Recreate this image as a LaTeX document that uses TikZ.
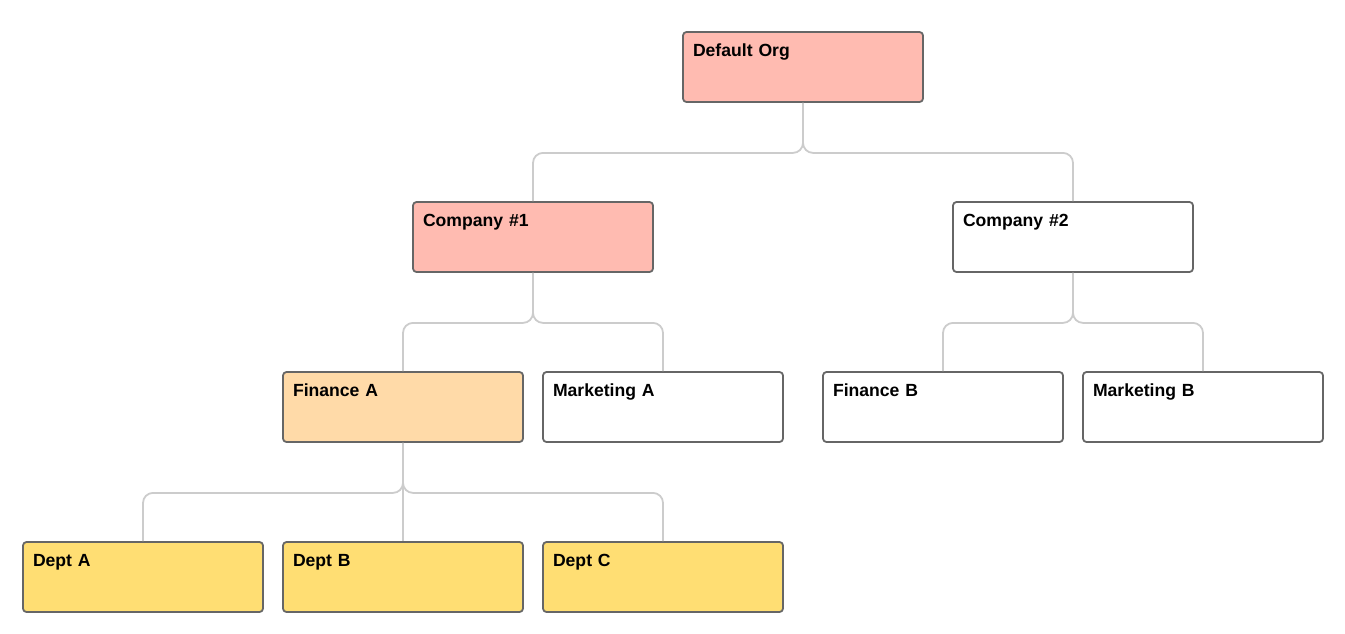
\documentclass[tikz,border=0pt]{standalone}
\usepackage{fontspec}
\setmainfont[WordSpace=0.8]{Liberation Sans}
\definecolor{redfill}{HTML}{FFBBB1}
\definecolor{orangefill}{HTML}{FFDAA8}
\definecolor{yellowfill}{HTML}{FFDE73}
\definecolor{boxline}{HTML}{666666}
\definecolor{connline}{HTML}{CCCCCC}
\tikzset{
  orgbox/.style={draw=boxline, line width=1.8pt, rounded corners=3.5pt, fill=white,
    minimum width=240pt, minimum height=70pt, text width=220pt, align=left,
    inner xsep=10pt, inner ysep=0pt, text height=24.5pt, text depth=45.5pt,
    font=\fontsize{17.6}{20}\selectfont\bfseries},
  conn/.style={draw=connline, line width=1.8pt, rounded corners=10pt},
}
\begin{document}
\begin{tikzpicture}
\useasboundingbox (0,0) rectangle (1345pt,-633pt);
\node[orgbox, fill=redfill] (org) at (803pt,-67pt) {Default Org};
\node[orgbox, fill=redfill] (c1) at (533pt,-237pt) {Company \#1};
\node[orgbox] (c2) at (1073pt,-237pt) {Company \#2};
\node[orgbox, fill=orangefill] (fa) at (403pt,-407pt) {Finance A};
\node[orgbox] (ma) at (663pt,-407pt) {Marketing A};
\node[orgbox] (fb) at (943pt,-407pt) {Finance B};
\node[orgbox] (mb) at (1203pt,-407pt) {Marketing B};
\node[orgbox, fill=yellowfill] (da) at (143pt,-577pt) {Dept A};
\node[orgbox, fill=yellowfill] (db) at (403pt,-577pt) {Dept B};
\node[orgbox, fill=yellowfill] (dc) at (663pt,-577pt) {Dept C};
\draw[conn] (org.south) -- ++(0,-50pt) -| (c1.north);
\draw[conn] (org.south) -- ++(0,-50pt) -| (c2.north);
\draw[conn] (c1.south) -- ++(0,-50pt) -| (fa.north);
\draw[conn] (c1.south) -- ++(0,-50pt) -| (ma.north);
\draw[conn] (c2.south) -- ++(0,-50pt) -| (fb.north);
\draw[conn] (c2.south) -- ++(0,-50pt) -| (mb.north);
\draw[conn] (fa.south) -- ++(0,-50pt) -| (da.north);
\draw[conn] (fa.south) -- (db.north);
\draw[conn] (fa.south) -- ++(0,-50pt) -| (dc.north);
\end{tikzpicture}
\end{document}
